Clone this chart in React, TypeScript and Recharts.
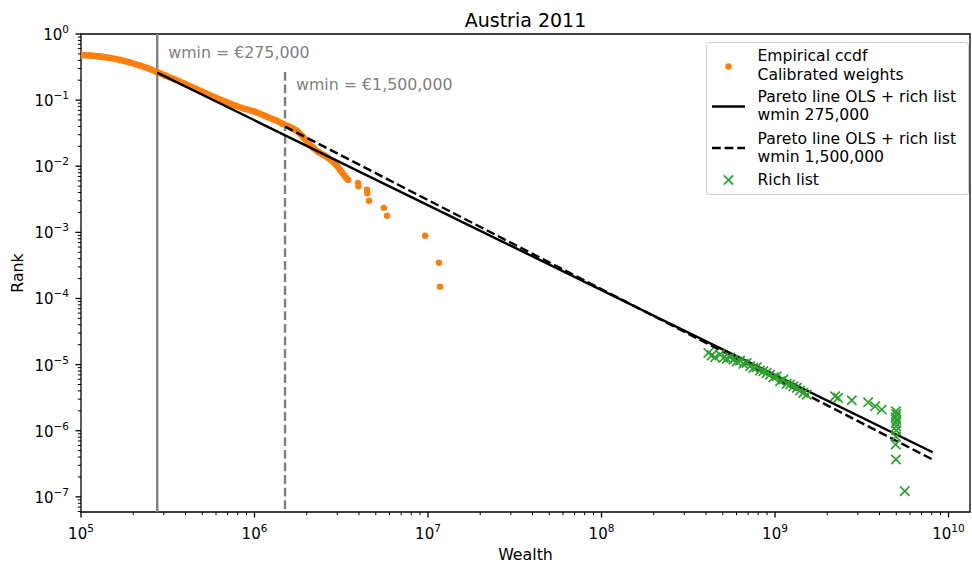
import { ScatterChart, Scatter, XAxis, YAxis, ReferenceLine, ReferenceArea } from 'recharts'

const FONT = '"DejaVu Sans", sans-serif'
const ORANGE = '#ff7f0e'
const GREEN = '#2ca02c'
const GREY = '#808080'

// empirical ccdf with calibrated weights: dense body
const ccdfWealth = [
  1.0e5, 1.127e5, 1.287e5, 1.469e5, 1.678e5, 1.915e5, 2.187e5, 2.498e5, 2.742e5, 3.049e5,
  3.482e5, 3.975e5, 4.539e5, 5.184e5, 5.918e5, 6.757e5, 7.72e5, 8.81e5, 1.007e6, 1.15e6,
  1.312e6, 1.459e6, 1.602e6, 1.758e6, 1.905e6, 2.034e6, 2.173e6, 2.322e6, 2.482e6, 2.653e6,
  2.833e6, 2.99e6, 3.11e6, 3.24e6, 3.37e6, 3.46e6,
]
const ccdfRank = [
  0.482, 0.473, 0.457, 0.434, 0.405, 0.371, 0.334, 0.296, 0.267, 0.236,
  0.2055, 0.1757, 0.15, 0.1285, 0.1099, 0.0955, 0.0832, 0.0736, 0.067, 0.0577,
  0.0502, 0.0437, 0.0394, 0.0343, 0.0278, 0.0226, 0.019, 0.0165, 0.01486, 0.0134,
  0.01165, 0.01014, 0.00883, 0.00768, 0.00668, 0.00623,
]

// top of the survey sample, sparse points
const tailWealth = [3.95e6, 3.97e6, 4.45e6, 4.46e6, 4.57e6, 5.57e6, 5.8e6, 9.62e6, 1.157e7, 1.172e7]
const tailRank = [5.61e-3, 4.97e-3, 4.4e-3, 3.9e-3, 3.0e-3, 2.35e-3, 1.78e-3, 8.89e-4, 3.47e-4, 1.51e-4]

// rich list
const richWealth = [
  4.13e8, 4.32e8, 4.51e8, 4.82e8, 5.04e8, 5.27e8, 5.5e8, 5.75e8, 6.02e8, 6.29e8,
  6.57e8, 6.87e8, 7.18e8, 7.5e8, 7.84e8, 8.19e8, 8.56e8, 8.96e8, 9.36e8, 9.78e8,
  1.023e9, 1.069e9, 1.116e9, 1.168e9, 1.221e9, 1.275e9, 1.334e9, 1.394e9, 1.456e9, 1.524e9,
  2.22e9, 2.31e9, 2.77e9, 3.44e9, 3.77e9, 4.12e9,
  4.98e9, 5.0e9, 4.97e9, 5.01e9, 4.98e9, 4.99e9, 5.0e9, 4.97e9, 4.96e9, 4.98e9,
  5.6e9,
]
const richRank = [
  1.5e-5, 1.38e-5, 1.29e-5, 1.42e-5, 1.26e-5, 1.23e-5, 1.29e-5, 1.19e-5, 1.12e-5, 1.15e-5,
  1.025e-5, 1.06e-5, 9.42e-6, 8.91e-6, 9.1e-6, 8.11e-6, 7.92e-6, 7.49e-6, 7.06e-6, 6.43e-6,
  6.65e-6, 5.6e-6, 5.93e-6, 5.11e-6, 4.99e-6, 4.7e-6, 4.45e-6, 4.05e-6, 3.74e-6, 3.52e-6,
  3.32e-6, 3.14e-6, 2.89e-6, 2.69e-6, 2.34e-6, 2.09e-6,
  1.97e-6, 1.79e-6, 1.61e-6, 1.45e-6, 1.31e-6, 1.16e-6, 1.01e-6, 8.17e-7, 6.19e-7, 3.67e-7,
  1.22e-7,
]

// fitted Pareto lines (OLS + rich list)
const pareto275Wealth = [275000, 8.1e9]
const pareto275Rank = [0.26, 4.73e-7]
const pareto1500Wealth = [1.5e6, 8.1e9]
const pareto1500Rank = [0.0398, 3.67e-7]

const wminLow = 275000
const wminHigh = 1500000

const xDomain = [1e5, 1.33e10]
const yDomain = [5.9e-8, 1]
const xMajor = [1e5, 1e6, 1e7, 1e8, 1e9, 1e10]
const yMajor = [1e-7, 1e-6, 1e-5, 1e-4, 1e-3, 1e-2, 1e-1, 1]
const minorSteps = [2, 3, 4, 5, 6, 7, 8, 9]

const zip = (ws: number[], rs: number[]) => ws.map((w, i) => ({ w, r: rs[i] }))

const ccdfData = zip(ccdfWealth, ccdfRank)
const tailData = zip(tailWealth, tailRank)
const richData = zip(richWealth, richRank)
const pareto275 = zip(pareto275Wealth, pareto275Rank)
const pareto1500 = zip(pareto1500Wealth, pareto1500Rank)

const inside = (v: number, d: number[]) => v >= d[0] * 0.999 && v <= d[1] * 1.001
const withMinor = (major: number[], dom: number[]) => {
  const out: number[] = []
  const decades = [major[0] / 10, ...major]
  decades.forEach((m) => {
    if (inside(m, dom)) out.push(m)
    minorSteps.forEach((s) => {
      if (inside(m * s, dom)) out.push(m * s)
    })
  })
  return out.sort((a, b) => a - b)
}
const xTicks = withMinor(xMajor, xDomain)
const yTicks = withMinor(yMajor, yDomain)

const isMajor = (v: number) => Math.abs(Math.log10(v) - Math.round(Math.log10(v))) < 1e-6
const expText = (v: number) => {
  const e = Math.round(Math.log10(v))
  return e < 0 ? '\u2212' + Math.abs(e) : String(e)
}

function XTick({ x, y, payload }: any) {
  const v = payload.value
  const major = isMajor(v)
  return (
    <g>
      <line x1={x} x2={x} y1={y} y2={y + (major ? 5.5 : 3.2)} stroke="#000" strokeWidth={major ? 1.3 : 1} />
      {major && (
        <text x={x} y={y + 27} textAnchor="middle" fontSize={15} fontFamily={FONT} fill="#000">
          10<tspan dy={-7} fontSize={10.5}>{expText(v)}</tspan>
        </text>
      )}
    </g>
  )
}

function YTick({ x, y, payload }: any) {
  const v = payload.value
  const major = isMajor(v)
  return (
    <g>
      <line x1={x} x2={x - (major ? 5.5 : 3.2)} y1={y} y2={y} stroke="#000" strokeWidth={major ? 1.3 : 1} />
      {major && (
        <text x={x - 12} y={y + 6} textAnchor="end" fontSize={15} fontFamily={FONT} fill="#000">
          10<tspan dy={-7} fontSize={10.5}>{expText(v)}</tspan>
        </text>
      )}
    </g>
  )
}

const Dot = (p: any) => <circle cx={p.cx} cy={p.cy} r={3.2} fill={ORANGE} />
const Cross = (p: any) => (
  <path
    d={`M${p.cx - 4.7},${p.cy - 4.7}L${p.cx + 4.7},${p.cy + 4.7}M${p.cx - 4.7},${p.cy + 4.7}L${p.cx + 4.7},${p.cy - 4.7}`}
    stroke={GREEN}
    strokeWidth={1.7}
    fill="none"
  />
)
const NoMark = () => <g />

const wminLabel = (text: string, dy: number) => ({ viewBox }: any) => (
  <text x={viewBox.x + 11} y={viewBox.y + dy} fontSize={15.8} fontFamily={FONT} fill={GREY}>
    {text}
  </text>
)

// legend entries: two-line labels share one text element
function LegendLabel({ y, lines }: { y: number; lines: string[] }) {
  return (
    <text y={y} fontSize={15.6} fontFamily={FONT} fill="#000">
      {lines.map((l, i) => (
        <tspan key={i} x={757.5} dy={i === 0 ? 0 : 18.2}>{l}</tspan>
      ))}
    </text>
  )
}

function LegendBox() {
  return (
    <svg width={972} height={565} style={{ position: 'absolute', left: 0, top: 0, pointerEvents: 'none' }}>
      <rect x={706.5} y={42.5} width={262} height={152} rx={3} fill="#fff" fillOpacity={0.8} stroke="#cccccc" />
      <circle cx={728.5} cy={66.5} r={3.2} fill={ORANGE} />
      <LegendLabel y={61.4} lines={['Empirical ccdf', 'Calibrated weights']} />
      <line x1={712} x2={745} y1={106.5} y2={106.5} stroke="#000" strokeWidth={2.4} />
      <LegendLabel y={101.9} lines={['Pareto line OLS + rich list', 'wmin 275,000']} />
      <line x1={712} x2={745} y1={148} y2={148} stroke="#000" strokeWidth={2.4} strokeDasharray="8.8 3.8" />
      <LegendLabel y={143.9} lines={['Pareto line OLS + rich list', 'wmin 1,500,000']} />
      <Cross cx={728.5} cy={180} />
      <LegendLabel y={184.5} lines={['Rich list']} />
    </svg>
  )
}

export default function App() {
  return (
    <div style={{ position: 'absolute', left: 0, top: 0, width: 972, height: 565, background: '#fff' }}>
      <ScatterChart width={972} height={565} margin={{ top: 34, right: 2, bottom: 0, left: 0 }}>
        <XAxis
          type="number" dataKey="w" scale="log" domain={xDomain} allowDataOverflow
          ticks={xTicks} interval={0} tick={XTick} tickSize={0} tickMargin={0}
          tickLine={false} axisLine={false} height={53}
        />
        <YAxis
          type="number" dataKey="r" scale="log" domain={yDomain} allowDataOverflow
          ticks={yTicks} interval={0} tick={YTick} tickSize={0} tickMargin={0}
          tickLine={false} axisLine={false} width={81}
        />
        <Scatter
          data={ccdfData} shape={Dot} isAnimationActive={false}
          line={{ stroke: ORANGE, strokeWidth: 6.4, strokeLinejoin: 'round', strokeLinecap: 'round' }}
        />
        <Scatter data={tailData} shape={Dot} isAnimationActive={false} />
        <Scatter data={pareto275} shape={NoMark} isAnimationActive={false} line={{ stroke: '#000', strokeWidth: 2.4 }} />
        <Scatter
          data={pareto1500} shape={NoMark} isAnimationActive={false}
          line={{ stroke: '#000', strokeWidth: 2.4, strokeDasharray: '8.8 3.8' }}
        />
        <Scatter data={richData} shape={Cross} isAnimationActive={false} />
        <ReferenceLine x={wminLow} stroke={GREY} strokeWidth={2.4} label={wminLabel('wmin = €275,000', 24)} />
        <ReferenceLine
          segment={[{ x: wminHigh, y: 0.267 }, { x: wminHigh, y: yDomain[0] }]}
          ifOverflow="visible" stroke={GREY} strokeWidth={2.4} strokeDasharray="8.8 3.8"
          label={wminLabel('wmin = €1,500,000', 18.5)}
        />
        <ReferenceArea
          x1={xDomain[0]} x2={xDomain[1]} y1={yDomain[0]} y2={yDomain[1]}
          ifOverflow="visible" fill="none" stroke="#000" strokeWidth={1.3}
        />
        <text x={525.5} y={26.5} textAnchor="middle" fontSize={19} fontFamily={FONT} fill="#000">Austria 2011</text>
        <text x={525.5} y={560} textAnchor="middle" fontSize={15.8} fontFamily={FONT} fill="#000">Wealth</text>
        <text x={23} y={273} transform="rotate(-90 23 273)" textAnchor="middle" fontSize={15.8} fontFamily={FONT} fill="#000">Rank</text>
      </ScatterChart>
      <LegendBox />
    </div>
  )
}
